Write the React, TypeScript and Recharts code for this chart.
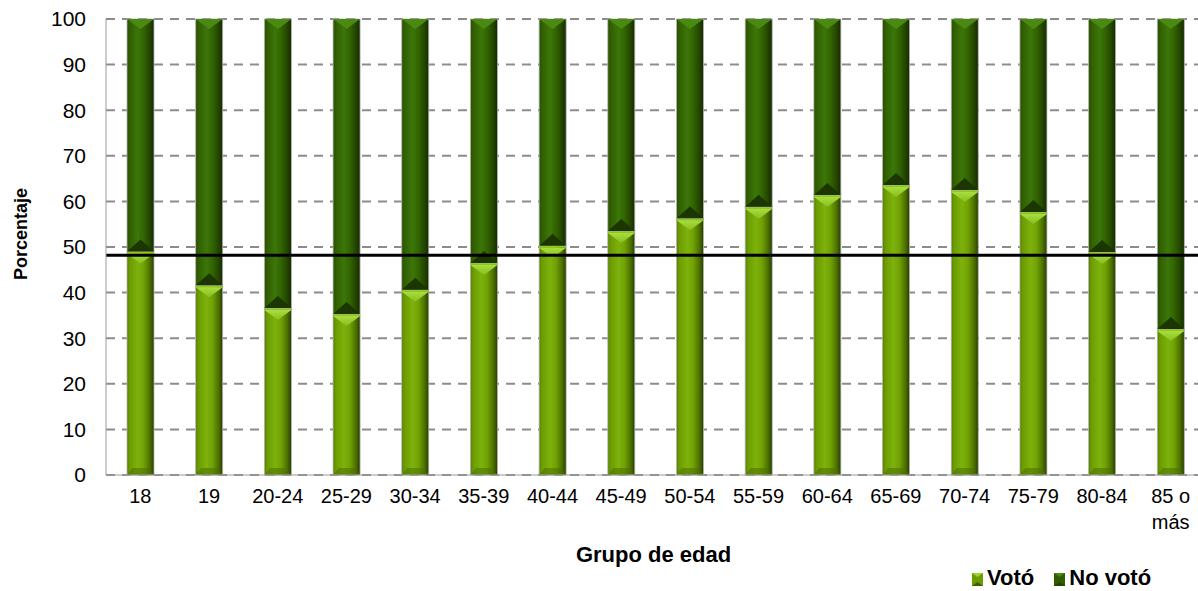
import React from "react";
import {
  ComposedChart,
  Bar,
  XAxis,
  YAxis,
  CartesianGrid,
  ReferenceLine,
  Legend,
  Label,
} from "recharts";

const categories = [
  "18", "19", "20-24", "25-29", "30-34", "35-39", "40-44", "45-49",
  "50-54", "55-59", "60-64", "65-69", "70-74", "75-79", "80-84", "85 o más",
];
const voto = [49.0, 41.6, 36.6, 35.3, 40.6, 46.5, 50.3, 53.5, 56.3, 58.8, 61.4, 63.6, 62.5, 57.7, 48.9, 32.0];
const noVoto = [51.0, 58.4, 63.4, 64.7, 59.4, 53.5, 49.7, 46.5, 43.7, 41.2, 38.6, 36.4, 37.5, 42.3, 51.1, 68.0];
// overall turnout (horizontal line)
const promedio = 48.2;
const yTicks = [0, 10, 20, 30, 40, 50, 60, 70, 80, 90, 100];

const data = categories.map((c, i) => ({ grupo: c, voto: voto[i], noVoto: noVoto[i] }));

const FONT = "'Liberation Sans', Arial, sans-serif";

const VotoShape = (p: any) => {
  const { x, y, width: w, height: h } = p;
  if (!h) return null;
  return (
    <g>
      <rect x={x} y={y} width={w} height={h} fill="url(#gVoto)" stroke="#b4b4b4" strokeWidth={0.8} />
      <polygon points={`${x},${y + h} ${x + w},${y + h} ${x + w * 0.8},${y + h - 7} ${x + w * 0.2},${y + h - 7}`} fill="#4d7000" opacity={0.55} />
      <rect x={x} y={y} width={w} height={2} fill="#8fc81c" />
      <polygon points={`${x},${y + 2} ${x + w},${y + 2} ${x + w / 2},${y + 12}`} fill="url(#gVotoCap)" />
    </g>
  );
};

const NoVotoShape = (p: any) => {
  const { x, y, width: w, height: h } = p;
  if (!h) return null;
  return (
    <g>
      <rect x={x} y={y} width={w} height={h} fill="url(#gNo)" stroke="#b4b4b4" strokeWidth={0.8} />
      <polygon points={`${x},${y + h} ${x + w},${y + h} ${x + w / 2},${y + h - 12}`} fill="#1b3600" />
      <polygon points={`${x},${y} ${x + w},${y} ${x + w / 2},${y + 10}`} fill="#4a8a12" />
    </g>
  );
};

const XTick = ({ x, y, payload }: any) => {
  const v: string = payload.value;
  const cut = v.length > 6 ? v.lastIndexOf(" ") : -1;
  const lines = cut > 0 ? [v.slice(0, cut), v.slice(cut + 1)] : [v];
  return (
    <text x={x} y={y} textAnchor="middle" fontSize={20} fontFamily={FONT} fill="#000">
      {lines.map((l, i) => (
        <tspan key={i} x={x} dy={i === 0 ? "0.71em" : 26}>
          {l}
        </tspan>
      ))}
    </text>
  );
};

const LegendBox = () => {
  const items = [
    { name: "Votó", grad: "#6c9c00", dark: "#9dd334" },
    { name: "No votó", grad: "#2f5c00", dark: "#4a8a12" },
  ];
  return (
    <div style={{ display: "flex", height: 20, lineHeight: "20px", alignItems: "center", fontFamily: FONT, fontWeight: "bold", fontSize: 22, color: "#000" }}>
      {items.map((it) => (
        <div key={it.name} style={{ display: "flex", alignItems: "center", marginRight: 20 }}>
          <svg width={11} height={13} style={{ marginRight: 4, marginTop: 3 }}>
            <rect x={0} y={0} width={11} height={13} fill={it.grad} />
            <polygon points="0,0 11,0 5.5,4" fill={it.dark} />
            <polygon points="0,13 11,13 5.5,9" fill="#1b3600" opacity={0.6} />
          </svg>
          <span>{it.name}</span>
        </div>
      ))}
    </div>
  );
};

export default function App() {
  return (
    <div style={{ position: "absolute", left: 0, top: 0, width: 1198, height: 591, overflow: "hidden", background: "#fff" }}>
      <ComposedChart
        width={1209}
        height={591}
        data={data}
        margin={{ top: 19, right: 4, bottom: 0, left: 0 }}
        barSize={27}
      >
        <defs>
          <linearGradient id="gVoto" x1="0" y1="0" x2="1" y2="0">
            <stop offset="0" stopColor="#567f00" />
            <stop offset="0.1" stopColor="#6c9c00" />
            <stop offset="0.4" stopColor="#7db20c" />
            <stop offset="0.62" stopColor="#71a204" />
            <stop offset="0.85" stopColor="#4c7000" />
            <stop offset="1" stopColor="#263d00" />
          </linearGradient>
          <linearGradient id="gVotoCap" x1="0" y1="0" x2="0" y2="1">
            <stop offset="0" stopColor="#a8de3e" />
            <stop offset="1" stopColor="#86be1e" />
          </linearGradient>
          <linearGradient id="gNo" x1="0" y1="0" x2="1" y2="0">
            <stop offset="0" stopColor="#2a5000" />
            <stop offset="0.12" stopColor="#316000" />
            <stop offset="0.4" stopColor="#3c760a" />
            <stop offset="0.62" stopColor="#326400" />
            <stop offset="0.85" stopColor="#234400" />
            <stop offset="1" stopColor="#152a00" />
          </linearGradient>
        </defs>
        <CartesianGrid vertical={false} stroke="#8c8c8c" strokeWidth={2} strokeDasharray="9 7" />
        <XAxis
          dataKey="grupo"
          height={96}
          stroke="#9a9a9a"
          tickSize={0}
          tickMargin={14}
          tick={<XTick />}
          interval={0}
        >
          <Label
            content={({ viewBox }: any) => (
              <text
                x={viewBox.x + viewBox.width / 2 - 2}
                y={viewBox.y + 87}
                textAnchor="middle"
                fontFamily={FONT}
                fontWeight="bold"
                fontSize={22}
                fill="#000"
              >
                Grupo de edad
              </text>
            )}
          />
        </XAxis>
        <YAxis
          width={106}
          domain={[0, 100]}
          ticks={yTicks}
          stroke="#9a9a9a"
          tickSize={0}
          tickMargin={20}
          tick={{ fontSize: 21, fontFamily: FONT, fill: "#000" }}
        >
          <Label
            content={() => (
              <text
                x={27}
                y={234}
                transform="rotate(-90 27 234)"
                textAnchor="middle"
                fontFamily={FONT}
                fontWeight="bold"
                fontSize={18}
                fill="#000"
              >
                Porcentaje
              </text>
            )}
          />
        </YAxis>
        <Bar dataKey="voto" name="Votó" stackId="a" fill="#6c9c00" shape={<VotoShape />} isAnimationActive={false} />
        <Bar dataKey="noVoto" name="No votó" stackId="a" fill="#2f5c00" shape={<NoVotoShape />} isAnimationActive={false} />
        <ReferenceLine y={promedio} stroke="#000" strokeWidth={3} />
        <Legend
          verticalAlign="bottom"
          height={20}
          content={<LegendBox />}
          wrapperStyle={{ left: 972, top: 568, bottom: "auto", width: 240, overflow: "visible" }}
        />
      </ComposedChart>
    </div>
  );
}
